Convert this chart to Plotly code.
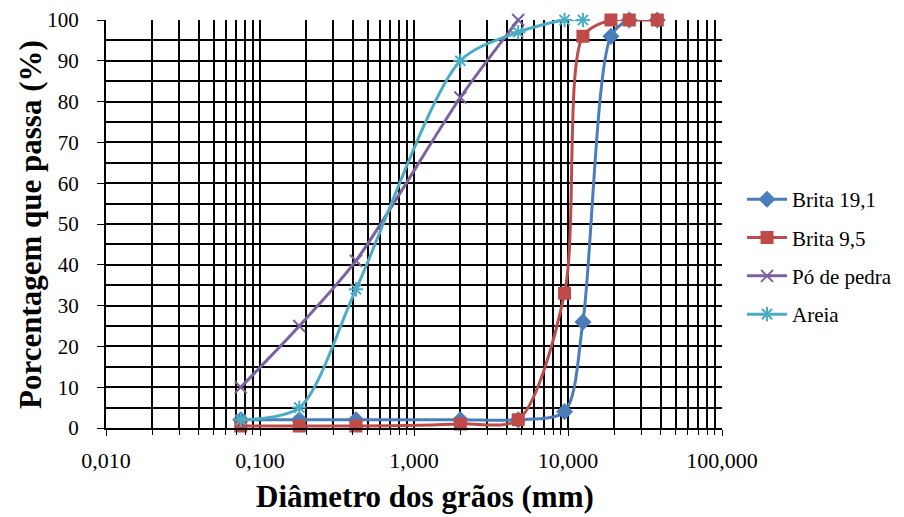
import plotly.graph_objects as go

# Sieve openings (mm)
diam = [0.075, 0.18, 0.42, 2.0, 4.75, 9.5, 12.5, 19.0, 25.0, 38.0]

brita19 = [2, 2, 2, 2, 2, 4, 26, 96, 100, 100]
brita95 = [0.5, 0.5, 0.5, 1, 2, 33, 96, 100, 100, 100]
po_pedra = [10, 25, 41, 81, 100]
areia = [2, 5, 34, 90, 97, 100, 100]

x_tickvals = [0.01, 0.1, 1, 10, 100]
x_ticktext = ["0,010", "0,100", "1,000", "10,000", "100,000"]

x_title = "Diâmetro dos grãos (mm)"
y_title = "Porcentagem que passa (%)"

series = [
    ("Brita 19,1", diam, brita19, "#4A7EBB", "diamond"),
    ("Brita 9,5", diam, brita95, "#BE4B48", "square"),
    ("Pó de pedra", diam[:len(po_pedra)], po_pedra, "#7D60A0", "x-thin"),
    ("Areia", diam[:len(areia)], areia, "#4BACC6", "asterisk"),
]

FONT = "Liberation Serif, Times New Roman, Times, serif"

fig = go.Figure()
for i, (name, xs, ys, col, sym) in enumerate(series):
    fig.add_trace(go.Scatter(
        x=xs, y=ys, name=name, mode="lines+markers",
        line=dict(color=col, width=3, shape="spline", smoothing=0.8),
        marker=dict(symbol=sym, size=11 if sym in ("square", "diamond") else 12,
                    color=col, line=dict(color=col, width=2)),
        cliponaxis=False, legendgroup=f"g{i}",
    ))

fig.update_layout(
    width=896, height=509,
    margin=dict(l=98, r=182, t=12, b=89, autoexpand=False),
    paper_bgcolor="white", plot_bgcolor="white",
    font=dict(family=FONT, color="black", size=21),
    showlegend=True,
    legend=dict(x=1.0325, xanchor="left", y=0.61, yanchor="top",
                font=dict(size=21, family=FONT),
                tracegroupgap=8, itemwidth=40, bgcolor="rgba(0,0,0,0)"),
    annotations=[
        dict(text=f"<b>{x_title}</b>", xref="paper", yref="paper",
             x=0.518, y=-0.169, xanchor="center", yanchor="middle",
             showarrow=False, font=dict(size=31, family=FONT)),
        dict(text=f"<b>{y_title}</b>", xref="paper", yref="paper",
             x=-0.1234, y=0.50, xanchor="center", yanchor="middle",
             textangle=-90, showarrow=False, font=dict(size=31, family=FONT)),
    ],
)
fig.update_xaxes(
    type="log", range=[-2, 2], automargin=False,
    tickvals=x_tickvals, ticktext=x_ticktext,
    showgrid=True, gridcolor="black", gridwidth=2,
    minor=dict(dtick="D1", showgrid=True, gridcolor="black", gridwidth=2,
               ticks="outside", ticklen=5, tickcolor="black"),
    showline=True, linecolor="black", linewidth=2,
    ticks="outside", ticklen=6, tickcolor="black",
    tickfont=dict(size=22), ticklabelstandoff=6, ticklabeloverflow="allow",
    zeroline=False,
)
fig.update_yaxes(
    range=[0, 100], dtick=10, automargin=False,
    showgrid=True, gridcolor="black", gridwidth=2,
    minor=dict(dtick=5, showgrid=True, gridcolor="black", gridwidth=2),
    showline=True, linecolor="black", linewidth=2,
    ticks="outside", ticklen=7, tickcolor="black",
    tickfont=dict(size=21), ticklabelstandoff=14, ticklabeloverflow="allow",
    zeroline=False,
)

fig.write_html("out.html")
